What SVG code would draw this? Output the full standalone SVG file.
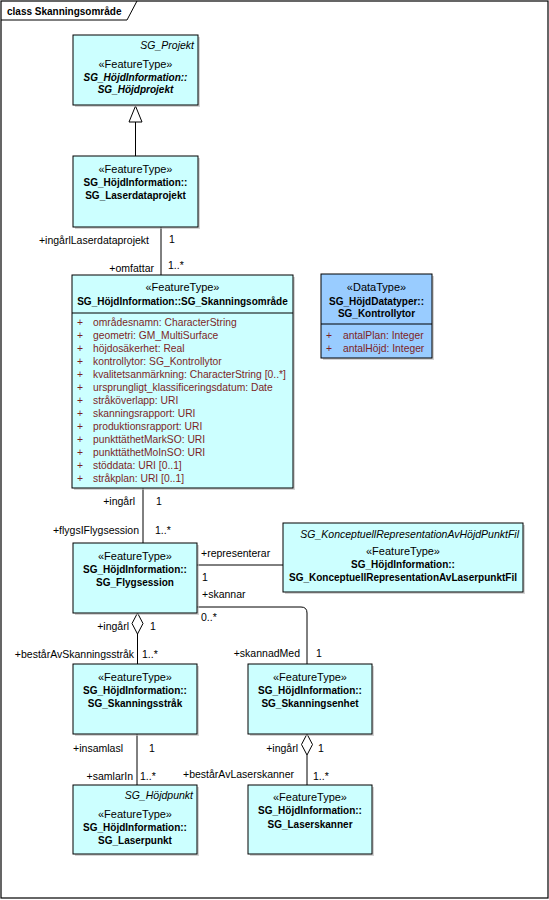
<svg xmlns="http://www.w3.org/2000/svg" width="549" height="900" viewBox="0 0 549 900">
<style>
text{font-family:"Liberation Sans",Arial,sans-serif;font-size:10.5px;fill:#000}
.s{font-size:11px}
.b{font-weight:bold;font-size:10px}
.i{font-style:italic}
.c{text-anchor:middle}
.e{text-anchor:end}
.a{fill:#7d1f1f;font-size:10.3px}
.box{fill:#ccffff;stroke:#000;stroke-width:1}
.dt{fill:#99ccff;stroke:#000;stroke-width:1}
.sh{fill:#b8b8b8;opacity:0.6}
.ln{fill:none;stroke:#000;stroke-width:1}
</style>
<rect x="0" y="0" width="549" height="900" fill="#fff"/>
<g id="frame">
<rect x="1" y="1" width="547" height="897" fill="none" stroke="#000" stroke-width="1.2"/>
<path d="M1 20 H127 L137 1" fill="none" stroke="#000" stroke-width="1"/>
<text x="7" y="15" class="b">class Skanningsområde</text>
</g>
<g id="connectors">
<path class="ln" d="M135.5 122 V156"/>
<polygon points="135.5,106 129,122 142,122" fill="#fff" stroke="#000"/>
<path class="ln" d="M161 227 V275"/>
<text x="149" y="244" class="e">+ingårlLaserdataprojekt</text>
<text x="169" y="243">1</text>
<text x="154" y="272" class="e">+omfattar</text>
<text x="168" y="269">1..*</text>
<path class="ln" d="M143 488 V543"/>
<text x="135" y="505" class="e">+ingårl</text>
<text x="156" y="505">1</text>
<text x="139" y="534" class="e">+flygsIFlygsession</text>
<text x="155" y="534">1..*</text>
<path class="ln" d="M197 565 H283"/>
<text x="201" y="557">+representerar</text>
<text x="202" y="581">1</text>
<path class="ln" d="M197 607 H301 Q307 607 307 613 V664"/>
<text x="202" y="598">+skannar</text>
<text x="201" y="621">0..*</text>
<text x="300" y="657" class="e">+skannadMed</text>
<text x="316" y="657">1</text>
<polygon points="137.5,613 132,623.5 137.5,634 143,623.5" fill="#fff" stroke="#000"/>
<path class="ln" d="M137.5 634 V664"/>
<text x="129" y="630" class="e">+ingårl</text>
<text x="150" y="630">1</text>
<text x="134" y="658" class="e">+bestårAvSkanningsstråk</text>
<text x="142" y="658">1..*</text>
<path class="ln" d="M137 734 V785"/>
<text x="123" y="752" class="e">+insamlasl</text>
<text x="149" y="752">1</text>
<text x="133" y="780" class="e">+samlarIn</text>
<text x="140" y="780">1..*</text>
<polygon points="307,734 301.5,744.5 307,755 312.5,744.5" fill="#fff" stroke="#000"/>
<path class="ln" d="M307 755 V785"/>
<text x="298" y="752" class="e">+ingårl</text>
<text x="318" y="752">1</text>
<text x="294" y="778" class="e">+bestårAvLaserskanner</text>
<text x="313" y="780">1..*</text>
</g>
<g id="SG_Hojdprojekt">
<rect class="sh" x="75" y="37" width="125" height="70"/>
<rect class="box" x="73" y="35" width="125" height="70"/>
<text x="194" y="49" class="e i">SG_Projekt</text>
<text x="135.5" y="68" class="c s">«FeatureType»</text>
<text x="135.5" y="80.5" class="c b i">SG_HöjdInformation::</text>
<text x="135.5" y="93" class="c b i">SG_Höjdprojekt</text>
</g>
<g id="SG_Laserdataprojekt">
<rect class="sh" x="75" y="158" width="125" height="71"/>
<rect class="box" x="73" y="156" width="125" height="71"/>
<text x="135.5" y="173" class="c s">«FeatureType»</text>
<text x="135.5" y="186" class="c b">SG_HöjdInformation::</text>
<text x="135.5" y="199" class="c b">SG_Laserdataprojekt</text>
</g>
<g id="SG_Skanningsomrade">
<rect class="sh" x="74" y="277" width="221" height="213"/>
<rect class="box" x="72" y="275" width="221" height="213"/>
<path class="ln" d="M72 313 H293"/>
<text x="182.5" y="291" class="c s">«FeatureType»</text>
<text x="182.5" y="305" class="c b">SG_HöjdInformation::SG_Skanningsområde</text>
<g class="attrs">
<text x="77" y="326" class="a">+</text><text x="93" y="326" class="a">områdesnamn: CharacterString</text>
<text x="77" y="339" class="a">+</text><text x="93" y="339" class="a">geometri: GM_MultiSurface</text>
<text x="77" y="352" class="a">+</text><text x="93" y="352" class="a">höjdosäkerhet: Real</text>
<text x="77" y="365" class="a">+</text><text x="93" y="365" class="a">kontrollytor: SG_Kontrollytor</text>
<text x="77" y="378" class="a">+</text><text x="93" y="378" class="a">kvalitetsanmärkning: CharacterString [0..*]</text>
<text x="77" y="391" class="a">+</text><text x="93" y="391" class="a">ursprungligt_klassificeringsdatum: Date</text>
<text x="77" y="404" class="a">+</text><text x="93" y="404" class="a">stråköverlapp: URI</text>
<text x="77" y="417" class="a">+</text><text x="93" y="417" class="a">skanningsrapport: URI</text>
<text x="77" y="430" class="a">+</text><text x="93" y="430" class="a">produktionsrapport: URI</text>
<text x="77" y="443" class="a">+</text><text x="93" y="443" class="a">punkttäthetMarkSO: URI</text>
<text x="77" y="456" class="a">+</text><text x="93" y="456" class="a">punkttäthetMoInSO: URI</text>
<text x="77" y="469" class="a">+</text><text x="93" y="469" class="a">stöddata: URI [0..1]</text>
<text x="77" y="482" class="a">+</text><text x="93" y="482" class="a">stråkplan: URI [0..1]</text>
</g>
</g>
<g id="SG_Kontrollytor">
<rect class="sh" x="323" y="276" width="111" height="84"/>
<rect class="dt" x="321" y="274" width="111" height="84"/>
<path class="ln" d="M321 324 H432"/>
<text x="376.5" y="291" class="c s">«DataType»</text>
<text x="376.5" y="305" class="c b">SG_HöjdDatatyper::</text>
<text x="376.5" y="317" class="c b">SG_Kontrollytor</text>
<text x="326" y="339" class="a">+</text><text x="343" y="339" class="a">antalPlan: Integer</text>
<text x="326" y="352" class="a">+</text><text x="343" y="352" class="a">antalHöjd: Integer</text>
</g>
<g id="SG_Flygsession">
<rect class="sh" x="75" y="545" width="124" height="70"/>
<rect class="box" x="73" y="543" width="124" height="70"/>
<text x="135" y="560" class="c s">«FeatureType»</text>
<text x="135" y="573" class="c b">SG_HöjdInformation::</text>
<text x="135" y="586" class="c b">SG_Flygsession</text>
</g>
<g id="SG_KonceptuellRepresentationAvLaserpunktFil">
<rect class="sh" x="285" y="525" width="240" height="69"/>
<rect class="box" x="283" y="523" width="240" height="69"/>
<text x="519" y="538" class="e i">SG_KonceptuellRepresentationAvHöjdPunktFil</text>
<text x="403" y="555" class="c s">«FeatureType»</text>
<text x="403" y="568" class="c b">SG_HöjdInformation::</text>
<text x="403" y="581" class="c b">SG_KonceptuellRepresentationAvLaserpunktFil</text>
</g>
<g id="SG_Skanningsstrak">
<rect class="sh" x="75" y="666" width="124" height="70"/>
<rect class="box" x="73" y="664" width="124" height="70"/>
<text x="135" y="681" class="c s">«FeatureType»</text>
<text x="135" y="694" class="c b">SG_HöjdInformation::</text>
<text x="135" y="707" class="c b">SG_Skanningsstråk</text>
</g>
<g id="SG_Skanningsenhet">
<rect class="sh" x="250" y="666" width="124" height="70"/>
<rect class="box" x="248" y="664" width="124" height="70"/>
<text x="310" y="681" class="c s">«FeatureType»</text>
<text x="310" y="694" class="c b">SG_HöjdInformation::</text>
<text x="310" y="707" class="c b">SG_Skanningsenhet</text>
</g>
<g id="SG_Laserpunkt">
<rect class="sh" x="75" y="787" width="124" height="69"/>
<rect class="box" x="73" y="785" width="124" height="69"/>
<text x="193" y="799" class="e i">SG_Höjdpunkt</text>
<text x="135" y="818" class="c s">«FeatureType»</text>
<text x="135" y="831" class="c b">SG_HöjdInformation::</text>
<text x="135" y="844" class="c b">SG_Laserpunkt</text>
</g>
<g id="SG_Laserskanner">
<rect class="sh" x="250" y="787" width="124" height="69"/>
<rect class="box" x="248" y="785" width="124" height="69"/>
<text x="310" y="801" class="c s">«FeatureType»</text>
<text x="310" y="814" class="c b">SG_HöjdInformation::</text>
<text x="310" y="828" class="c b">SG_Laserskanner</text>
</g>
</svg>
